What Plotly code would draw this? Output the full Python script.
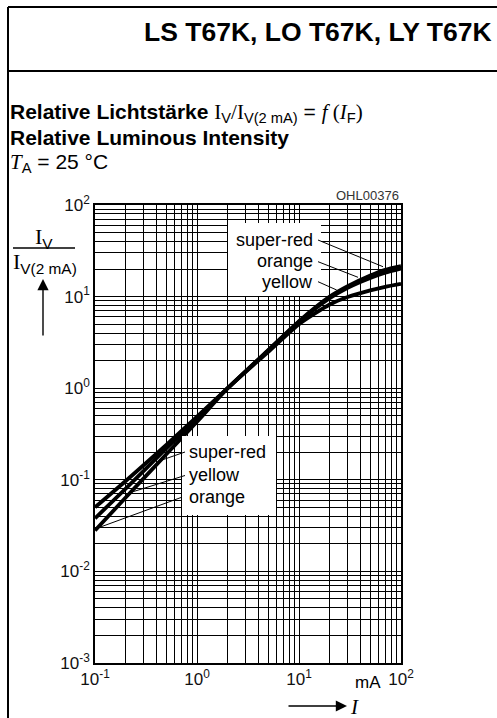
import plotly.graph_objects as go

# ---------------- data ----------------
current_mA = [0.1, 0.2, 0.5, 1, 2, 5, 10, 20, 30, 50, 70, 100]
super_red = [0.050, 0.097, 0.24, 0.49, 1.0, 2.6, 5.4, 10.0, 13.0, 17.0, 19.6, 21.5]
orange = [0.028, 0.064, 0.19, 0.43, 1.0, 2.6, 5.3, 9.6, 12.5, 16.0, 18.3, 20.3]
yellow = [0.038, 0.080, 0.22, 0.46, 1.0, 2.5, 5.0, 8.2, 9.9, 11.7, 12.8, 13.8]

x_tickvals = [0.1, 1, 10, 100]
x_ticktext = ["10<sup>-1</sup>", "10<sup>0</sup>", "10<sup>1</sup>", "10<sup>2</sup>"]
y_tickvals = [0.001, 0.01, 0.1, 1, 10, 100]
y_ticktext = ["10<sup>-3</sup>", "10<sup>-2</sup>", "10<sup>-1</sup>", "10<sup>0</sup>",
              "10<sup>1</sup>", "10<sup>2</sup>"]

W, H = 497, 718
SANS = "Liberation Sans, Arial, sans-serif"
SERIF = "Liberation Serif, Times New Roman, serif"


def px(x):
    return x / W


def py(y):
    return 1 - y / H


fig = go.Figure()
for name, vals in [("super-red", super_red), ("orange", orange), ("yellow", yellow)]:
    fig.add_trace(go.Scatter(x=current_mA, y=vals, mode="lines", name=name,
                             line=dict(color="black", width=3.8, shape="spline", smoothing=0.6),
                             showlegend=False, hoverinfo="skip"))

axis_common = dict(type="log", showgrid=True, gridcolor="black", gridwidth=1,
                   showline=True, mirror=True, linecolor="black", linewidth=1.5,
                   ticks="", tickfont=dict(family=SANS, size=17, color="#111"),
                   minor=dict(dtick="D1", showgrid=True, gridcolor="black", gridwidth=1, ticks=""),
                   zeroline=False, fixedrange=True, automargin=False)

fig.update_layout(
    template="none",
    width=W, height=H, margin=dict(l=0, r=0, t=0, b=0, pad=0, autoexpand=False),
    paper_bgcolor="white", plot_bgcolor="white", showlegend=False,
    xaxis=dict(axis_common, range=[-1, 2], domain=[px(95), px(401)],
               tickvals=x_tickvals, ticktext=x_ticktext),
    yaxis=dict(axis_common, range=[-3, 2], domain=[py(663), py(205)],
               tickvals=y_tickvals, ticktext=y_ticktext),
)

shapes = []
# page frame
shapes.append(dict(type="line", xref="paper", yref="paper", x0=px(8), x1=px(8), y0=py(7), y1=py(718),
                   line=dict(color="black", width=2)))
shapes.append(dict(type="line", xref="paper", yref="paper", x0=px(8), x1=px(497), y0=py(7), y1=py(7),
                   line=dict(color="black", width=2)))
shapes.append(dict(type="line", xref="paper", yref="paper", x0=px(8), x1=px(497), y0=py(71), y1=py(71),
                   line=dict(color="black", width=2)))
# white label boxes (hide grid; curves do not pass through them)
for (x0, y0, x1, y1) in [(228, 223, 321, 296), (182, 436, 276, 515)]:
    shapes.append(dict(type="rect", xref="paper", yref="paper", x0=px(x0), x1=px(x1),
                       y0=py(y1), y1=py(y0), fillcolor="white", line=dict(width=0),
                       layer="above"))
# leader lines
leaders = [
    (318, 240, 383, 266.7), (318, 261.7, 358, 277.3), (318, 281.7, 336.7, 290),
    (185, 452, 159, 461), (185, 475.5, 133, 491.7), (181, 497.5, 95, 529),
]
for (x0, y0, x1, y1) in leaders:
    shapes.append(dict(type="line", xref="paper", yref="paper", x0=px(x0), y0=py(y0),
                       x1=px(x1), y1=py(y1), line=dict(color="black", width=1), layer="above"))
# fraction bar of y label
shapes.append(dict(type="line", xref="paper", yref="paper", x0=px(13), x1=px(75), y0=py(248), y1=py(248),
                   line=dict(color="black", width=1.3)))
fig.update_layout(shapes=shapes)

ann = []


def text(x, y, t, size, xanchor="left", family=SANS, color="black"):
    ann.append(dict(x=px(x), y=py(y), xref="paper", yref="paper", text=t, showarrow=False,
                    xanchor=xanchor, yanchor="middle", font=dict(family=family, size=size, color=color)))


def serif(s):
    return "<span style='font-family:Liberation Serif'>" + s + "</span>"


text(494, 32, "<b>LS T67K, LO T67K, LY T67K</b>", 26.5, "right")
text(8, 113, "<b>Relative Lichtstärke</b> " + serif("I") + "<sub>V</sub>" + serif("/I") +
     "<sub>V(2 mA)</sub> = " + serif("<i>f</i> (<i>I</i>") + "<sub>F</sub>" + serif(")"), 21)
text(8, 137, "<b>Relative Luminous Intensity</b>", 21)
text(8, 163, serif("<i>T</i>") + "<sub>A</sub> = 25 °C", 21)
text(401, 195, "OHL00376", 13, "right", color="#333")

# curve labels
for t, y in [("super-red", 240), ("orange", 261), ("yellow", 282)]:
    text(315, y, t, 18, "right")
for t, y in [("super-red", 452), ("yellow", 474.5), ("orange", 497)]:
    text(187, y, t, 18, "left")

# axis labels
text(44, 238, serif("I") + "<sub>V</sub>", 22, "center")
text(45, 263, serif("I") + "<sub>V(2 mA)</sub>", 22, "center")
text(368, 682, "mA", 17, "center")
text(348, 707, serif("<i>I</i>"), 21, "left")

# arrows
ann.append(dict(x=px(43), y=py(279), xref="paper", yref="paper", ax=0, ay=58, axref="pixel", ayref="pixel",
                showarrow=True, arrowhead=2, arrowsize=1.6, arrowwidth=1.4, arrowcolor="black", text=""))
ann.append(dict(x=px(347), y=py(706), xref="paper", yref="paper", ax=-60, ay=0,
                showarrow=True, arrowhead=2, arrowsize=1.6, arrowwidth=1.4, arrowcolor="black", text=""))

fig.update_layout(annotations=ann)
fig.write_html("out.html", config={"displayModeBar": False, "responsive": False},
               post_script="document.body.style.margin='0';document.body.style.overflow='hidden';")
